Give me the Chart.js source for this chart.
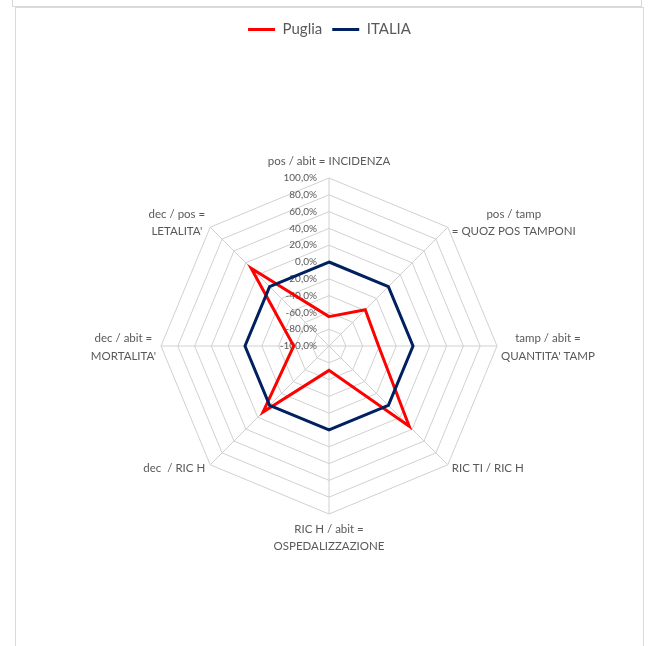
<!DOCTYPE html>
<html>
<head>
<meta charset="utf-8">
<script src="https://cdn.jsdelivr.net/npm/chart.js@4.4.0/dist/chart.umd.min.js"></script>
<style>
  html, body { margin: 0; padding: 0; background: #fff; }
  #wrap { position: relative; width: 649px; height: 646px; overflow: hidden; }
  .box-top { position: absolute; left: 12px; top: -2px; width: 628px; height: 7px; border: 1px solid #d9d9d9; }
  .box-main { position: absolute; left: 15px; top: 7px; width: 627px; height: 660px; border: 1px solid #d9d9d9; }
  canvas { position: absolute; left: 0; top: 0; }
</style>
</head>
<body>
<div id="wrap">
  <div class="box-top"></div>
  <div class="box-main"></div>
  <canvas id="chart" width="649" height="646"></canvas>
</div>
<script>
// axis categories (clockwise from the top)
const categories = [
  ["pos / abit = INCIDENZA"],
  ["pos / tamp", "= QUOZ POS TAMPONI"],
  ["tamp / abit =", "QUANTITA' TAMP"],
  ["RIC TI / RIC H"],
  ["RIC H / abit =", "OSPEDALIZZAZIONE"],
  ["dec  / RIC H"],
  ["dec / abit =", "MORTALITA'"],
  ["dec / pos =", "LETALITA'"]
];
const seriesNames = ["Puglia", "ITALIA"];
const pugliaValues = [-65, -39, -41, 35, -71, 11, -58, 31];
const italiaValues = [0, 0, 0, 0, 0, 0, 0, 0];
const tickMin = -100;
const tickMax = 100;
const tickStep = 20;

const textColor = "#595959";
const lineH = 17.5;

function formatPct(v) {
  return v.toFixed(1).replace(".", ",") + "%";
}

// draws the tick labels left of the vertical axis and centred multi-line axis labels
const radarText = {
  id: "radarText",
  beforeDatasetsDraw(chart) {
    const s = chart.scales.r;
    const ctx = chart.ctx;
    ctx.save();
    ctx.fillStyle = textColor;
    ctx.font = "10px Lato";
    ctx.textAlign = "right";
    ctx.textBaseline = "middle";
    s.ticks.forEach(t => {
      const d = s.getDistanceFromCenterForValue(t.value);
      ctx.fillText(formatPct(t.value), s.xCenter - 12, s.yCenter - d);
    });

    ctx.font = "11.5px Lato";
    ctx.textAlign = "center";
    categories.forEach((lines, i) => {
      const p = s.getPointPosition(i, s.drawingArea);
      const cos = Math.cos(p.angle), sin = Math.sin(p.angle);
      const w = Math.max(...lines.map(l => ctx.measureText(l).width));
      const n = lines.length;
      let cx = p.x;
      if (cos > 0.1) cx = p.x + 4 + w / 2;
      else if (cos < -0.1) cx = p.x - 5 - w / 2;
      let cy;
      if (sin < -0.9) cy = p.y - 17 - (n - 1) * lineH / 2;
      else if (sin > 0.9) cy = p.y + 15 + (n - 1) * lineH / 2;
      else cy = p.y + (sin > 0.3 ? 4 : sin < -0.3 ? -4.5 : 1.5);
      lines.forEach((l, k) => ctx.fillText(l, cx, cy + (k - (n - 1) / 2) * lineH));
    });
    ctx.restore();
  }
};

new Chart(document.getElementById("chart"), {
  type: "radar",
  data: {
    labels: categories,
    datasets: [
      {
        label: seriesNames[0],
        data: pugliaValues,
        borderColor: "#ff0000",
        backgroundColor: "#ff0000",
        borderWidth: 3,
        pointRadius: 0,
        fill: false,
        order: 1
      },
      {
        label: seriesNames[1],
        data: italiaValues,
        borderColor: "#002060",
        backgroundColor: "#002060",
        borderWidth: 3,
        pointRadius: 0,
        fill: false,
        order: 0
      }
    ]
  },
  options: {
    responsive: false,
    animation: false,
    layout: { padding: { top: 12, left: 161, right: 151, bottom: 0 } },
    plugins: {
      tooltip: { enabled: false },
      legend: {
        position: "top",
        labels: {
          color: textColor,
          font: { family: "Lato", size: 15 },
          boxWidth: 27,
          boxHeight: 3,
          padding: 10,
          sort: (a, b) => a.datasetIndex - b.datasetIndex,
          generateLabels: chart =>
            Chart.defaults.plugins.legend.labels.generateLabels(chart).map(item => ({ ...item, lineWidth: 0 }))
        }
      }
    },
    scales: {
      r: {
        min: tickMin,
        max: tickMax,
        beginAtZero: false,
        ticks: { stepSize: tickStep, display: false },
        grid: { color: "#d0d0d0", lineWidth: 1 },
        angleLines: { color: "#d0d0d0", lineWidth: 1 },
        pointLabels: { display: false }
      }
    }
  },
  plugins: [radarText]
});
</script>
</body>
</html>
